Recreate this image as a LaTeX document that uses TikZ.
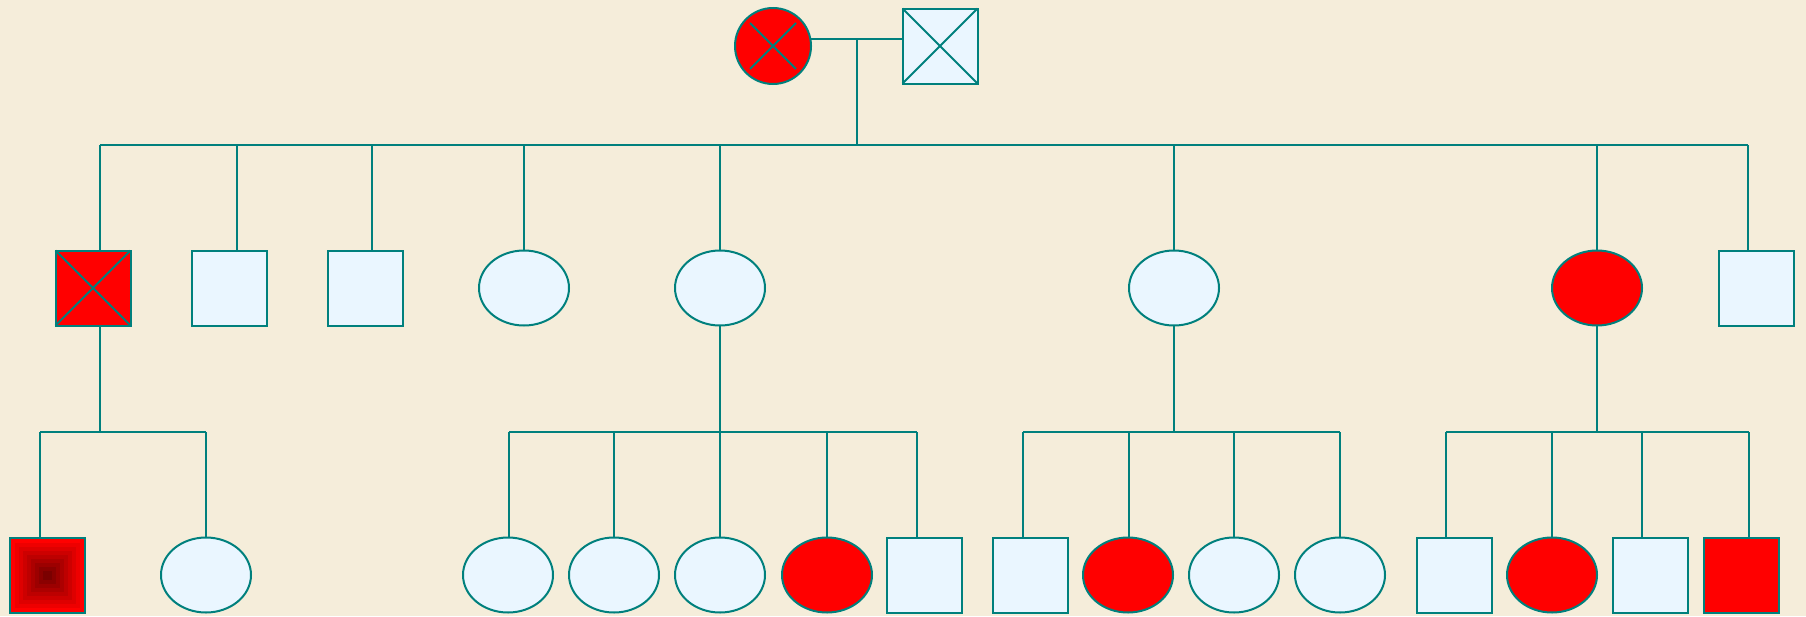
\documentclass[tikz,border=0pt]{standalone}
\usetikzlibrary{shapes.geometric}
\definecolor{ln}{RGB}{0,128,125}
\definecolor{bg}{RGB}{245,237,218}
\definecolor{lb}{RGB}{234,246,255}
\begin{document}
\begin{tikzpicture}[x=1pt,y=-1pt,
  every node/.style={inner sep=0pt, outer sep=0pt, draw=ln, line width=2pt},
  sq/.style={rectangle, minimum size=75pt, fill=lb},
  el/.style={ellipse, minimum width=90pt, minimum height=75pt, fill=lb},
  aff/.style={fill=red},
  con/.style={draw=ln, line width=1.8pt}]
\fill[bg] (0,0) rectangle (1806,616);
\useasboundingbox (0,0) rectangle (1806,616);

% generation I
\node[circle, minimum size=76pt, fill=red] (gm) at (773,46) {};
\node[sq] (gf) at (940,46) {};
\draw[con] (gm.center) ++(-23,-23) -- ++(46,46);
\draw[con] (gm.center) ++(23,-23) -- ++(-46,46);
\draw[con] (gf.north west) -- (gf.south east) (gf.north east) -- (gf.south west);
\coordinate (cm) at (857,39);
\coordinate (s1) at (857,145);
\draw[con] (cm -| gm.east) -- (cm -| gf.west);
\draw[con] (cm) -- (s1);

% generation II
\node[sq, aff] (c1) at (93,288) {};
\node[sq] (c2) at (229,288) {};
\node[sq] (c3) at (365,288) {};
\node[el] (c4) at (524,288) {};
\node[el] (c5) at (720,288) {};
\node[el] (c6) at (1174,288) {};
\node[el, aff] (c7) at (1597,288) {};
\node[sq] (c8) at (1756,288) {};
\draw[con] (c1.north west) -- (c1.south east) (c1.north east) -- (c1.south west);

\coordinate (d1) at (100,145);
\coordinate (d2) at (237,145);
\coordinate (d3) at (372,145);
\coordinate (d4) at (524,145);
\coordinate (d5) at (720,145);
\coordinate (d6) at (1174,145);
\coordinate (d7) at (1597,145);
\coordinate (d8) at (1748,145);
\draw[con] (d1) -- (d8);
\foreach \i in {1,...,8} { \draw[con] (d\i) -- (d\i |- c\i.north); }

% generation III, family A
\node[sq, aff] (g1) at (47,575) {};
\node[el] (g2) at (206,575) {};
\foreach \i in {0,...,8} {
  \pgfmathsetmacro{\h}{36.5-4*\i}
  \pgfmathsetmacro{\p}{100-6.5*\i}
  \fill[red!\p!black] (g1.center) ++(-\h,-\h) rectangle ++(2*\h,2*\h);
}
\draw[con, line width=2pt] (g1.north west) rectangle (g1.south east);
\coordinate (a0) at (100,432);
\coordinate (a1) at (40,432);
\coordinate (a2) at (206,432);
\draw[con] (c1.south -| a0) -- (a0);
\draw[con] (a1) -- (a2);
\draw[con] (a1) -- (a1 |- g1.north);
\draw[con] (a2) -- (a2 |- g2.north);

% family B
\node[el] (b1) at (508,575) {};
\node[el] (b2) at (614,575) {};
\node[el] (b3) at (720,575) {};
\node[el, aff] (b4) at (827,575) {};
\node[sq] (b5) at (924,575) {};
\coordinate (bb0) at (720,432);
\coordinate (bb1) at (509,432);
\coordinate (bb2) at (614,432);
\coordinate (bb3) at (720,432);
\coordinate (bb4) at (827,432);
\coordinate (bb5) at (917,432);
\draw[con] (c5.south) -- (bb0);
\draw[con] (bb1) -- (bb5);
\foreach \i in {1,...,5} { \draw[con] (bb\i) -- (bb\i |- b\i.north); }

% family C
\node[sq] (e1) at (1030,575) {};
\node[el, aff] (e2) at (1128,575) {};
\node[el] (e3) at (1234,575) {};
\node[el] (e4) at (1340,575) {};
\coordinate (ee0) at (1174,432);
\coordinate (ee1) at (1023,432);
\coordinate (ee2) at (1129,432);
\coordinate (ee3) at (1234,432);
\coordinate (ee4) at (1340,432);
\draw[con] (c6.south) -- (ee0);
\draw[con] (ee1) -- (ee4);
\foreach \i in {1,...,4} { \draw[con] (ee\i) -- (ee\i |- e\i.north); }

% family D
\node[sq] (f1) at (1454,575) {};
\node[el, aff] (f2) at (1552,575) {};
\node[sq] (f3) at (1650,575) {};
\node[sq, aff] (f4) at (1741,575) {};
\coordinate (ff0) at (1597,432);
\coordinate (ff1) at (1446,432);
\coordinate (ff2) at (1552,432);
\coordinate (ff3) at (1642,432);
\coordinate (ff4) at (1749,432);
\draw[con] (c7.south) -- (ff0);
\draw[con] (ff1) -- (ff4);
\foreach \i in {1,...,4} { \draw[con] (ff\i) -- (ff\i |- f\i.north); }
\end{tikzpicture}
\end{document}
